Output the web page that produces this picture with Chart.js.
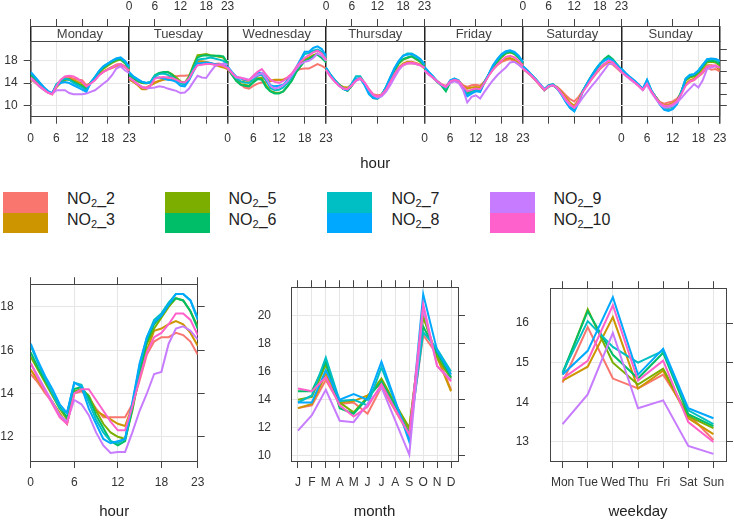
<!DOCTYPE html>
<html>
<head>
<meta charset="utf-8">
<script src="https://cdn.jsdelivr.net/npm/chart.js@4.4.1/dist/chart.umd.min.js"></script>
<style>
  body { margin: 0; background: #fff; }
  #page { position: relative; width: 734px; height: 522px; overflow: hidden; }
  canvas { position: absolute; }
  .sw { position: absolute; width: 45px; height: 20.5px; }
  .lab { position: absolute; font: 16px 'Liberation Sans', Arial, sans-serif; line-height: 16px; color: #222; white-space: nowrap; }
  .lab sub { font-size: 11px; line-height: 0; vertical-align: -3px; }
</style>
</head>
<body>
<div id="page">
  <canvas id="week_chart" width="734" height="175" style="left:0;top:0"></canvas>
  <div id="key"></div>
  <canvas id="hour_chart" width="240" height="262" style="left:0;top:260px"></canvas>
  <canvas id="month_chart" width="240" height="262" style="left:240px;top:260px"></canvas>
  <canvas id="weekday_chart" width="254" height="262" style="left:480px;top:260px"></canvas>
</div>
<script>
var seriesNames = ['NO2_2', 'NO2_3', 'NO2_5', 'NO2_6', 'NO2_7', 'NO2_8', 'NO2_9', 'NO2_10'];
var seriesColors = ['#F8766D', '#CD9600', '#7CAE00', '#00BE67', '#00BFC4', '#00A9FF', '#C77CFF', '#FF61CC'];
var days = ['Monday', 'Tuesday', 'Wednesday', 'Thursday', 'Friday', 'Saturday', 'Sunday'];
var months = ['J', 'F', 'M', 'A', 'M', 'J', 'J', 'A', 'S', 'O', 'N', 'D'];
var weekdays = ['Mon', 'Tue', 'Wed', 'Thu', 'Fri', 'Sat', 'Sun'];
var hourTickLabels = [0, 6, 12, 18, 23];

// day x hour means, Monday..Sunday, 24 values per day
var week_no2_2 = [
  14.7,14.1,13.4,12.8,12.3,12.0,13.2,14.2,14.9,15.0,14.8,14.6,14.5,13.6,14.0,14.6,15.5,16.0,16.4,16.7,17.0,17.2,16.9,16.3,
  14.6,14.2,13.7,13.3,13.2,13.6,14.2,14.3,14.6,15.0,15.3,15.2,15.3,15.3,15.4,16.4,18.0,17.8,17.6,17.5,17.4,17.5,17.2,16.6,
  16.5,15.5,14.6,13.8,13.2,13.0,13.5,13.9,14.1,14.2,14.3,14.5,14.5,14.6,15.0,15.6,16.2,16.5,16.6,16.6,17.0,17.4,17.1,16.6,
  16.4,15.3,14.4,13.6,13.2,13.0,13.6,14.5,14.8,14.0,12.9,12.0,11.8,11.9,12.9,14.3,15.6,16.7,17.2,17.5,17.5,17.4,17.2,16.7,
  16.3,15.6,15.0,14.3,13.8,13.5,14.2,14.5,14.3,13.6,13.3,13.6,13.7,13.5,14.3,15.4,16.4,17.2,17.8,18.1,18.3,17.9,17.4,16.8,
  16.5,15.9,15.2,14.4,13.6,12.8,13.6,13.7,13.3,12.6,11.8,11.1,10.7,11.5,12.6,13.6,14.6,15.6,16.5,17.2,17.6,17.3,16.6,15.9,
  16.0,15.4,14.8,14.2,13.5,12.8,13.9,12.5,11.5,10.6,10.3,10.5,10.7,11.2,12.2,13.6,14.2,14.5,15.2,15.8,16.8,16.4,16.5,16.1
];
var week_no2_3 = [
  14.8,14.2,13.5,12.9,12.3,12.0,13.3,14.0,14.6,14.7,14.5,14.2,14.0,13.4,14.0,14.7,15.6,16.1,16.5,16.9,17.3,17.4,17.0,16.2,
  14.8,14.2,13.6,12.9,12.9,13.6,14.0,14.4,14.6,14.7,14.6,14.4,14.0,13.9,14.6,16.6,17.8,17.9,17.8,17.6,17.3,17.0,16.8,16.5,
  16.6,15.6,14.8,14.2,14.4,14.4,14.5,14.8,15.0,14.6,14.4,14.6,14.6,14.6,14.8,15.5,16.5,17.6,18.3,18.6,19.0,19.2,18.7,17.8,
  16.5,15.3,14.4,13.7,13.3,13.2,13.7,14.6,14.9,14.0,12.8,11.6,11.5,12.0,13.0,14.5,15.8,16.8,17.5,17.8,17.8,17.6,17.3,16.6,
  16.4,15.6,15.0,14.3,13.7,13.3,14.1,14.5,14.3,13.5,13.0,13.2,13.3,13.2,14.2,15.4,16.5,17.4,18.0,18.4,18.5,18.2,17.6,17.0,
  16.6,16.0,15.3,14.5,13.6,12.8,13.5,13.6,13.2,12.4,11.4,10.5,9.9,11.0,12.5,13.6,14.8,15.8,16.7,17.4,17.9,17.6,16.9,16.1,
  16.1,15.4,14.8,14.2,13.6,12.8,14.0,12.5,11.5,10.5,10.0,10.1,10.4,10.9,12.2,13.8,14.5,14.8,15.5,16.3,17.2,17.2,17.0,16.4
];
var week_no2_5 = [
  15.3,14.6,13.8,13.1,12.4,12.1,13.5,14.2,14.6,14.7,14.3,13.9,13.6,13.0,14.1,14.9,15.9,16.6,17.1,17.6,18.0,18.2,17.6,16.6,
  15.3,14.8,14.3,14.0,13.9,14.1,15.2,15.7,15.9,16.0,15.6,15.0,14.3,14.1,15.2,17.2,19.0,19.1,19.2,19.0,18.9,18.7,18.6,17.4,
  16.8,15.6,14.5,13.8,13.7,13.5,14.2,14.8,14.8,13.6,12.6,12.3,12.2,12.5,13.4,14.5,16.0,17.0,18.0,18.4,18.9,19.3,18.6,17.8,
  16.6,15.4,14.5,13.8,13.1,12.6,13.5,14.6,14.8,13.8,12.5,11.3,11.2,11.8,13.1,14.8,16.3,17.5,18.2,18.5,18.8,18.3,17.8,17.0,
  16.5,15.7,15.0,14.2,13.6,13.0,14.2,14.6,14.4,13.3,12.3,12.7,13.0,12.8,14.1,15.5,16.8,17.8,18.6,19.3,19.5,19.2,18.5,17.5,
  16.7,16.1,15.4,14.6,13.6,12.7,13.4,13.7,13.1,12.2,11.0,10.0,9.4,10.8,12.6,13.8,15.1,16.3,17.3,18.2,18.8,18.2,17.2,16.4,
  16.2,15.5,14.9,14.3,13.6,12.9,14.2,12.6,11.5,10.4,9.7,9.7,10.0,10.7,12.4,14.4,15.0,15.2,15.8,16.8,17.7,17.8,17.7,17.1
];
var week_no2_6 = [
  15.5,14.7,13.9,13.1,12.4,12.1,13.6,14.3,14.7,14.6,14.2,13.8,13.4,12.9,14.0,14.9,16.0,16.8,17.3,17.8,18.2,18.3,17.6,16.6,
  15.4,14.9,14.4,14.1,14.0,14.2,15.4,15.8,16.0,16.0,15.5,14.7,14.0,13.9,15.0,16.9,18.6,18.9,19.0,18.9,18.9,18.9,18.8,17.6,
  16.8,15.5,14.4,13.7,13.5,13.4,14.1,14.7,14.6,13.2,12.5,12.1,12.1,12.5,13.4,14.4,15.9,17.0,17.9,18.3,18.8,19.1,18.5,17.7,
  16.6,15.4,14.5,13.7,13.0,12.6,13.5,14.7,14.8,13.8,12.4,11.4,11.3,11.9,13.2,14.8,16.3,17.6,18.3,18.6,18.8,18.4,17.9,17.1,
  16.6,15.8,15.0,14.2,13.5,12.5,14.1,14.7,14.4,13.2,12.1,12.5,12.8,12.7,14.1,15.5,16.9,17.9,18.8,19.4,19.6,19.3,18.6,17.6,
  16.8,16.1,15.4,14.6,13.7,12.7,13.3,13.6,13.0,12.1,10.9,9.9,9.3,10.7,12.6,13.9,15.2,16.4,17.4,18.3,18.9,18.3,17.3,16.4,
  16.3,15.6,14.9,14.3,13.7,12.9,14.3,12.6,11.5,10.3,9.6,9.5,9.8,10.6,12.5,14.6,15.2,15.4,16.0,17.0,17.9,18.0,17.9,17.4
];
var week_no2_7 = [
  15.9,15.0,14.1,13.3,12.5,12.1,13.8,14.4,14.8,14.6,14.0,13.6,13.2,12.6,14.1,15.1,16.2,17.0,17.5,18.0,18.4,18.5,17.9,16.8,
  15.7,15.1,14.6,14.2,14.0,14.2,15.3,15.6,15.7,15.5,15.0,14.5,13.9,13.8,14.8,16.5,18.2,18.3,18.4,18.6,18.4,18.2,18.0,17.2,
  16.9,15.8,14.9,14.3,14.1,14.0,14.6,15.3,15.5,14.4,13.1,12.7,12.8,13.2,14.0,15.0,16.5,18.0,19.2,19.4,19.8,20.0,19.6,18.5,
  16.8,15.6,14.6,13.7,13.0,12.8,13.9,15.2,15.2,14.0,12.3,11.4,11.3,11.9,13.3,15.0,16.6,17.9,18.9,19.3,19.3,18.9,18.3,17.4,
  16.8,16.0,15.2,14.3,13.6,13.1,14.4,14.8,14.5,13.1,11.8,12.3,12.6,12.5,14.1,15.6,17.1,18.2,19.1,19.6,19.8,19.5,18.8,17.7,
  17.0,16.3,15.5,14.7,13.8,12.9,13.6,13.8,13.1,12.0,10.7,9.6,9.0,10.6,12.6,14.0,15.3,16.5,17.5,18.1,18.5,18.1,17.3,16.5,
  16.5,15.7,15.0,14.4,13.7,12.9,14.5,12.7,11.5,10.2,9.3,9.1,9.4,10.3,12.4,14.8,15.5,15.6,16.3,17.3,18.2,18.3,18.3,17.8
];
var week_no2_8 = [
  16.0,15.1,14.2,13.3,12.6,12.2,13.5,14.0,14.2,14.0,13.6,13.2,12.8,12.4,14.0,15.0,16.2,17.0,17.5,18.0,18.4,18.6,18.0,17.0,
  16.0,15.2,14.7,14.2,14.0,14.1,15.0,15.0,14.8,14.6,14.5,14.2,13.5,13.4,14.5,16.0,17.5,17.6,17.7,17.6,17.4,17.3,17.2,16.8,
  17.0,16.0,15.2,14.8,14.6,14.5,15.2,15.9,15.8,15.0,13.6,13.4,13.5,13.7,14.5,15.5,16.8,18.2,19.6,19.6,20.3,20.6,20.1,18.9,
  16.7,15.5,14.5,13.6,12.9,12.7,13.7,14.8,14.8,13.6,12.0,11.3,11.2,11.8,13.2,15.0,16.7,18.0,18.9,19.1,19.2,18.8,18.3,17.3,
  16.9,16.0,15.2,14.3,13.6,13.2,14.5,14.8,14.4,13.0,11.6,12.1,12.5,12.4,14.1,15.6,17.2,18.3,19.2,19.7,19.9,19.6,18.9,17.8,
  17.0,16.3,15.5,14.7,13.8,12.9,13.5,13.7,13.0,11.9,10.6,9.5,8.9,10.5,12.5,13.9,15.2,16.4,17.4,18.0,18.4,18.0,17.2,16.4,
  16.6,15.8,15.1,14.5,13.8,13.0,14.6,12.7,11.4,10.1,9.2,9.0,9.3,10.2,12.2,14.7,15.4,15.6,16.2,17.2,18.3,18.4,18.3,18.0
];
var week_no2_9 = [
  14.9,14.2,13.4,12.8,12.3,12.0,12.7,12.7,12.7,12.2,12.0,12.0,12.0,12.1,12.4,12.7,13.3,13.9,14.5,15.4,16.6,17.0,16.3,15.8,
  15.0,14.4,13.8,13.3,13.0,13.1,13.2,13.4,13.3,13.0,12.8,12.6,12.2,12.3,13.0,14.2,15.3,15.0,14.9,16.0,17.0,17.3,17.5,17.3,
  16.7,15.8,15.0,14.9,14.8,14.6,15.0,15.4,15.8,14.8,13.5,13.0,13.2,13.6,14.3,15.4,16.5,17.4,17.8,18.0,18.5,19.3,18.9,18.0,
  16.3,15.2,14.3,13.5,13.0,12.9,13.5,14.4,14.7,14.1,12.8,11.8,11.4,11.6,12.4,13.6,15.0,16.3,17.2,17.5,17.6,17.4,17.2,16.8,
  16.2,15.5,14.9,14.2,13.7,13.3,14.0,14.3,14.0,12.8,10.5,11.5,11.8,11.2,12.4,13.5,14.5,15.4,16.1,16.8,17.7,17.8,17.3,16.6,
  16.6,16.0,15.3,14.5,13.7,12.8,13.4,13.6,13.1,12.1,10.9,10.0,9.5,10.3,11.4,12.4,13.4,14.3,15.3,16.3,17.4,17.5,16.8,16.0,
  15.9,15.3,14.7,14.1,13.5,12.7,13.7,12.3,11.2,10.2,9.6,9.6,9.9,10.5,11.3,12.2,13.0,13.8,13.2,14.5,16.5,16.8,17.0,16.8
];
var week_no2_10 = [
  15.0,14.3,13.5,12.9,12.3,12.0,13.4,14.6,15.2,15.3,15.2,14.8,14.2,13.4,13.9,14.5,15.4,16.0,16.4,16.8,17.3,17.4,16.9,16.2,
  15.0,14.4,13.8,13.2,13.1,13.5,14.8,15.0,15.1,15.0,14.9,14.6,14.2,14.1,14.8,16.2,17.2,17.3,17.4,17.4,17.3,17.3,17.1,16.7,
  16.8,15.8,15.1,15.0,14.7,14.5,15.3,16.0,16.5,15.5,14.6,14.2,14.0,14.4,15.0,15.7,16.8,17.8,18.5,19.0,19.5,19.8,19.3,18.2,
  16.4,15.2,14.3,13.5,13.0,12.9,13.6,14.5,14.9,14.1,12.9,11.9,11.6,11.9,12.8,14.2,15.6,16.7,17.3,17.6,17.7,17.5,17.2,16.7,
  16.3,15.6,15.0,14.3,13.7,13.3,14.3,14.6,14.4,13.4,12.5,12.8,13.0,12.9,14.0,15.3,16.4,17.3,18.0,18.7,18.9,18.6,18.0,17.1,
  16.6,16.0,15.3,14.5,13.6,12.7,13.4,13.6,13.1,12.2,11.1,10.2,9.6,10.8,12.4,13.5,14.7,15.7,16.7,17.4,18.0,17.7,16.9,16.1,
  16.0,15.4,14.8,14.2,13.5,12.8,13.9,12.5,11.4,10.4,9.9,9.9,10.2,10.8,12.0,13.5,14.3,14.6,15.3,16.0,17.0,17.1,17.2,16.7
];

// hour of day means (0..23)
var hour_no2_2 = [14.9,14.5,14.0,13.6,13.0,12.6,14.0,14.1,13.8,13.3,12.9,12.9,12.9,12.9,13.5,14.6,15.8,16.4,16.6,16.6,16.8,16.7,16.4,15.8];
var hour_no2_3 = [15.1,14.6,14.1,13.6,13.1,12.6,14.0,14.2,13.7,13.2,13.0,12.8,12.6,12.5,13.4,14.8,16.0,16.9,17.0,17.2,17.35,17.2,16.8,16.2];
var hour_no2_5 = [15.7,15.1,14.5,13.9,13.3,12.8,14.1,14.2,13.9,13.2,12.6,12.2,12.0,11.9,13.2,14.9,16.3,17.0,17.5,18.0,18.4,18.3,17.8,17.1];
var hour_no2_6 = [15.9,15.2,14.6,14.0,13.4,12.9,14.2,14.3,13.8,13.0,12.4,11.8,11.6,11.8,13.3,15.0,16.4,17.2,17.6,18.1,18.4,18.3,17.8,17.0];
var hour_no2_7 = [16.2,15.4,14.7,14.0,13.3,13.1,14.5,14.4,13.6,12.8,12.2,11.8,11.7,11.9,13.5,15.3,16.6,17.4,17.7,18.2,18.6,18.6,18.3,17.5];
var hour_no2_8 = [16.3,15.5,14.8,14.2,13.5,13.1,14.5,14.3,13.3,12.6,11.9,11.7,11.8,11.9,13.6,15.4,16.6,17.3,17.6,18.1,18.6,18.6,18.3,17.4];
var hour_no2_9 = [15.4,14.8,14.2,13.6,13.0,12.7,13.7,13.5,13.0,12.2,11.6,11.25,11.3,11.3,12.2,13.2,14.0,14.9,15.0,16.3,17.0,17.1,16.9,16.5];
var hour_no2_10 = [15.4,14.7,14.1,13.5,12.9,12.6,14.0,14.2,14.2,13.7,13.2,12.7,12.3,12.3,13.4,14.7,15.9,16.6,16.8,17.2,17.7,17.7,17.4,16.7];

// monthly means (Jan..Dec)
var month_no2_2 = [13.4,13.6,15.4,13.7,13.8,13.0,14.9,13.2,11.5,18.6,17.2,14.7];
var month_no2_3 = [13.4,13.7,15.8,13.8,13.9,14.3,15.2,13.6,11.9,20.0,17.0,14.6];
var month_no2_5 = [14.0,14.2,16.5,13.8,13.1,14.2,15.5,13.7,12.0,19.9,17.0,15.5];
var month_no2_6 = [14.6,14.6,16.7,13.4,13.0,14.1,15.3,13.5,11.6,19.2,17.3,15.6];
var month_no2_7 = [13.8,14.3,17.0,13.9,14.0,13.6,16.3,13.8,11.3,18.8,17.6,16.0];
var month_no2_8 = [13.8,13.8,16.1,14.0,14.4,14.0,16.7,13.9,11.0,21.5,17.5,15.8];
var month_no2_9 = [11.8,12.9,14.7,12.5,12.4,13.7,14.9,12.5,10.1,20.5,16.4,15.4];
var month_no2_10 = [14.8,14.6,15.6,13.6,12.8,13.5,15.1,13.3,11.5,20.8,16.4,15.3];

// weekday means (Mon..Sun)
var wday_no2_2 = [14.5,15.9,14.6,14.35,14.7,13.7,13.05];
var wday_no2_3 = [14.55,14.9,16.15,14.35,14.8,13.6,13.2];
var wday_no2_5 = [14.7,16.35,15.0,14.45,14.85,13.65,13.35];
var wday_no2_6 = [14.75,16.3,15.2,14.6,15.25,13.7,13.4];
var wday_no2_7 = [14.75,16.05,15.4,15.0,15.3,13.8,13.45];
var wday_no2_8 = [14.7,15.3,16.65,14.7,15.35,13.85,13.6];
var wday_no2_9 = [13.45,14.2,15.75,13.85,14.05,12.9,12.7];
var wday_no2_10 = [14.6,15.05,16.45,14.55,15.05,13.5,13.0];

var weekData = [week_no2_2, week_no2_3, week_no2_5, week_no2_6, week_no2_7, week_no2_8, week_no2_9, week_no2_10];
var hourData = [hour_no2_2, hour_no2_3, hour_no2_5, hour_no2_6, hour_no2_7, hour_no2_8, hour_no2_9, hour_no2_10];
var monthData = [month_no2_2, month_no2_3, month_no2_5, month_no2_6, month_no2_7, month_no2_8, month_no2_9, month_no2_10];
var wdayData = [wday_no2_2, wday_no2_3, wday_no2_5, wday_no2_6, wday_no2_7, wday_no2_8, wday_no2_9, wday_no2_10];

Chart.defaults.font.family = "'Liberation Sans', Arial, sans-serif";
Chart.defaults.font.size = 12;
Chart.defaults.color = '#333';

var AXIS = '#444';
var GRID = '#e6e6e6';
var SPAN = 23;  // one day panel on the shared x scale

function setTicks(values) {
  return function (scale) {
    scale.ticks = values.map(function (v) { return { value: v }; });
  };
}
function fixWidth(w) { return function (scale) { scale.width = w; }; }
function fixHeight(h) { return function (scale) { scale.height = h; }; }

// weekly panel ticks: 0,6,12,18 of each day plus the last 23
var weekTicks = [];
days.forEach(function (d, i) {
  [0, 6, 12, 18].forEach(function (h) { weekTicks.push(i * SPAN + h); });
});
weekTicks.push(days.length * SPAN);
var stripTicks = [];
days.forEach(function (d, i) { stripTicks.push(i * SPAN); stripTicks.push(i * SPAN + SPAN / 2); });
stripTicks.push(days.length * SPAN);

function panelLabel(value, evenPanels) {
  var k = value / SPAN;
  if (Number.isInteger(k)) {
    if (k < 7 && (k % 2 === 0) === evenPanels) return '0';
    if (k > 0 && ((k - 1) % 2 === 0) === evenPanels) return '23';
    return '';
  }
  var d = Math.floor(k);
  return (d % 2 === 0) === evenPanels ? String(value - d * SPAN) : '';
}

function weekPoints(arr) {
  var pts = [];
  for (var d = 0; d < 7; d++) {
    for (var h = 0; h < 24; h++) pts.push({ x: d * SPAN + h, y: arr[d * 24 + h] });
    if (d < 6) pts.push({ x: d * SPAN + SPAN, y: null });
  }
  return pts;
}

function lineSets(dataList, mapper) {
  return seriesNames.map(function (name, i) {
    return {
      label: name,
      data: mapper ? mapper(dataList[i]) : dataList[i],
      borderColor: seriesColors[i],
      backgroundColor: seriesColors[i],
      borderWidth: 2,
      pointRadius: 0,
      tension: 0,
      order: seriesNames.length - i
    };
  });
}

var baseOptions = {
  responsive: false,
  animation: false,
  devicePixelRatio: 1,
  layout: { padding: 0 },
  plugins: { legend: { display: false }, tooltip: { enabled: false } }
};
function opts(scales) {
  return Object.assign({}, baseOptions, { scales: scales });
}

// ---- day x hour panel ----
var WEEK = document.getElementById('week_chart');
new Chart(WEEK, {
  type: 'line',
  data: { datasets: lineSets(weekData, weekPoints) },
  options: opts({
    x: {
      type: 'linear', position: 'bottom', min: 0, max: 161,
      afterBuildTicks: setTicks(weekTicks),
      afterFit: fixHeight(58.3),
      ticks: { autoSkip: false, maxRotation: 0, padding: 7.5, callback: function (v) { return panelLabel(v, true); } },
      grid: {
        color: function (c) { return c.tick && c.tick.value % SPAN === 0 ? '#222' : GRID; },
        lineWidth: function (c) { return c.tick && c.tick.value % SPAN === 0 ? 1.5 : 1; },
        tickColor: AXIS, tickLength: 7
      },
      border: { color: AXIS },
      title: { display: true, text: 'hour', color: '#222', font: { size: 15 }, padding: { top: 0, bottom: 2 } }
    },
    xStrip: {
      axis: 'x', type: 'linear', position: 'top', weight: 0, min: 0, max: 161,
      afterBuildTicks: setTicks(stripTicks),
      afterFit: fixHeight(15),
      ticks: {
        autoSkip: false, maxRotation: 0, padding: -16.5, color: '#444', font: { size: 13 },
        callback: function (v) { return v % SPAN === 0 ? '' : days[Math.floor(v / SPAN)]; }
      },
      grid: {
        drawOnChartArea: false, tickLength: 15, lineWidth: 1.5,
        tickColor: function (c) { return c.tick && c.tick.value % SPAN === 0 ? '#222' : 'rgba(0,0,0,0)'; }
      },
      border: { color: AXIS }
    },
    xTop: {
      axis: 'x', type: 'linear', position: 'top', weight: 1, min: 0, max: 161,
      afterBuildTicks: setTicks(weekTicks),
      afterFit: fixHeight(26),
      ticks: { autoSkip: false, maxRotation: 0, padding: 4.8, callback: function (v) { return panelLabel(v, false); } },
      grid: { drawOnChartArea: false, tickColor: AXIS, tickLength: 7 },
      border: { color: AXIS }
    },
    y: {
      type: 'linear', position: 'left', min: 7.95, max: 21.55,
      afterBuildTicks: setTicks([10, 12, 14, 16, 18, 20]),
      afterFit: fixWidth(30.7),
      ticks: { padding: 6, callback: function (v) { return v % 4 === 2 ? String(v) : ''; } },
      grid: { color: GRID, tickColor: AXIS, tickLength: 7 },
      border: { color: AXIS }
    },
    yRight: {
      axis: 'y', type: 'linear', position: 'right', min: 7.95, max: 21.55,
      afterBuildTicks: setTicks([10, 12, 14, 16, 18, 20]),
      afterFit: fixWidth(8.5),
      ticks: { display: false },
      grid: { drawOnChartArea: false, tickColor: AXIS, tickLength: 7 },
      border: { color: AXIS }
    }
  })
});

// ---- legend (key) ----
var key = document.getElementById('key');
var keyLeft = [2.7, 164.5, 327, 489.5];
var textLeft = [67, 228.5, 391.5, 553.5];
for (var g = 0; g < 4; g++) {
  for (var r = 0; r < 2; r++) {
    var idx = g * 2 + r;
    var sw = document.createElement('div');
    sw.className = 'sw';
    sw.style.left = keyLeft[g] + 'px';
    sw.style.top = (192 + r * 20.5) + 'px';
    sw.style.background = seriesColors[idx];
    key.appendChild(sw);
    var lab = document.createElement('div');
    lab.className = 'lab';
    lab.style.left = textLeft[g] + 'px';
    lab.style.top = (190.5 + r * 21.7) + 'px';
    lab.innerHTML = 'NO<sub>2</sub>' + seriesNames[idx].slice(3);
    key.appendChild(lab);
  }
}

// ---- bottom panels ----
function bottomScales(cfg) {
  return {
    x: Object.assign({
      position: 'bottom',
      afterFit: fixHeight(61),
      ticks: { autoSkip: false, maxRotation: 0, padding: 7.8 },
      grid: { color: GRID, tickColor: AXIS, tickLength: 7 },
      border: { color: AXIS },
      title: { display: true, text: cfg.title, color: '#222', font: { size: 15 }, padding: { top: 0, bottom: 1 } }
    }, cfg.x),
    xTop: Object.assign({
      axis: 'x', position: 'top',
      afterFit: fixHeight(19.5),
      ticks: { display: false },
      grid: { drawOnChartArea: false, tickColor: AXIS, tickLength: 7 },
      border: { color: AXIS }
    }, cfg.x),
    y: {
      type: 'linear', position: 'left', min: cfg.yMin, max: cfg.yMax,
      afterBuildTicks: setTicks(cfg.yTicks),
      afterFit: fixWidth(cfg.left),
      ticks: { padding: cfg.labelGap },
      grid: { color: GRID, drawTicks: false },
      border: { color: AXIS }
    },
    yRight: {
      axis: 'y', type: 'linear', position: 'right', min: cfg.yMin, max: cfg.yMax,
      afterBuildTicks: setTicks(cfg.yTicks),
      afterFit: fixWidth(cfg.right),
      ticks: { display: false },
      grid: { drawOnChartArea: false, tickColor: AXIS, tickLength: 7 },
      border: { color: AXIS }
    }
  };
}

new Chart(document.getElementById('hour_chart'), {
  type: 'line',
  data: { datasets: lineSets(hourData, function (arr) { return arr.map(function (v, h) { return { x: h, y: v }; }); }) },
  options: opts(bottomScales({
    title: 'hour',
    x: { type: 'linear', min: 0, max: 23, afterBuildTicks: setTicks(hourTickLabels) },
    yMin: 10.88, yMax: 19.05, yTicks: [12, 14, 16, 18],
    left: 30.7, right: 42.3, labelGap: 17
  }))
});

new Chart(document.getElementById('month_chart'), {
  type: 'line',
  data: { labels: months, datasets: lineSets(monthData) },
  options: opts(bottomScales({
    title: 'month',
    x: { type: 'category', offset: true, grid: { offset: false, color: GRID, tickColor: AXIS, tickLength: 7 } },
    yMin: 9.64, yMax: 22.0, yTicks: [10, 12, 14, 16, 18, 20],
    left: 51, right: 22, labelGap: 20
  }))
});

new Chart(document.getElementById('weekday_chart'), {
  type: 'line',
  data: { labels: weekdays, datasets: lineSets(wdayData) },
  options: opts(bottomScales({
    title: 'weekday',
    x: { type: 'category', offset: true, grid: { offset: false, color: GRID, tickColor: AXIS, tickLength: 7 } },
    yMin: 12.52, yMax: 16.88, yTicks: [13, 14, 15, 16],
    left: 70, right: 8, labelGap: 21
  }))
});
</script>
</body>
</html>
